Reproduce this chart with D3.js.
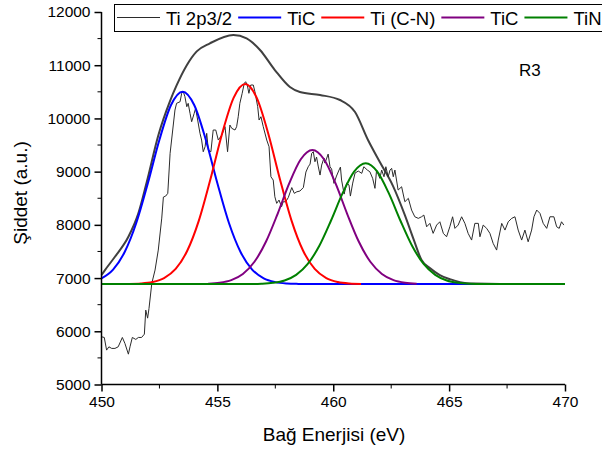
<!DOCTYPE html>
<html>
<head>
<meta charset="utf-8">
<script src="https://cdn.jsdelivr.net/npm/d3@7"></script>
<style>
  body { margin: 0; background: #fff; }
  text { font-family: "Liberation Sans", Arial, sans-serif; fill: #000; }
</style>
</head>
<body>
<svg id="chart" width="602" height="452"></svg>
<script>
// measured spectrum, [eV, counts]
var rawData = [
  [450.01,5896],[450.12,5884],[450.22,5646],[450.32,5708],[450.44,5678],[450.58,5678],[450.72,5708],[450.90,5884],
  [451.01,5772],[451.16,5570],[451.23,5708],[451.33,5884],[451.48,5847],[451.59,5884],[451.73,5884],[451.85,5946],
  [451.91,6398],[451.99,6247],[452.05,6430],[452.17,6900],[452.31,7150],[452.45,7526],[452.60,8127],[452.67,8522],
  [452.77,8541],[452.86,8592],[452.96,9344],[453.17,10158],[453.24,10284],[453.39,10314],[453.46,10472],[453.53,10502],
  [453.60,10408],[453.68,10220],[453.74,10284],[453.82,10096],[453.89,9938],[454.00,10096],[454.06,10190],[454.15,9970],
  [454.25,9720],[454.32,9594],[454.39,9374],[454.47,9468],[454.54,9720],[454.61,9406],[454.72,9374],[454.82,9782],
  [454.93,9782],[455.04,9594],[455.19,9688],[455.33,9844],[455.44,9374],[455.54,9876],[455.62,9814],[455.76,9782],
  [455.83,9844],[455.90,10032],[455.97,10284],[456.07,10472],[456.16,10660],[456.22,10690],[456.29,10628],[456.36,10472],
  [456.44,10628],[456.55,10628],[456.62,10502],[456.74,10220],[456.80,9970],[456.88,10032],[456.98,9844],[457.13,9594],
  [457.23,9468],[457.31,8904],[457.41,8842],[457.48,8528],[457.56,8404],[457.66,8466],[457.77,8340],[457.84,8434],
  [457.95,8434],[458.06,8513],[458.21,8701],[458.32,8592],[458.43,8622],[458.56,8635],[458.71,8701],[458.82,8992],
  [458.92,9092],[459.00,9142],[459.07,9344],[459.14,9374],[459.21,9186],[459.28,9274],[459.35,9105],[459.43,8936],
  [459.50,9124],[459.60,9255],[459.64,9161],[459.72,9255],[459.78,9330],[459.86,9092],[459.93,9048],[460.03,8780],
  [460.14,8917],[460.25,9030],[460.31,9086],[460.36,8842],[460.47,8578],[460.58,8785],[460.68,8748],[460.74,8541],
  [460.84,8785],[460.94,8973],[461.08,9011],[461.23,8968],[461.32,9092],[461.47,9030],[461.58,8998],[461.70,8874],
  [461.80,8686],[461.87,9030],[462.01,8874],[462.09,9030],[462.19,8904],[462.27,9092],[462.37,8904],[462.45,9030],
  [462.52,9062],[462.59,8904],[462.66,9030],[462.80,8654],[462.95,8716],[463.09,8434],[463.24,8498],[463.38,8278],
  [463.52,8152],[463.67,8122],[463.81,8152],[463.91,8184],[464.03,7964],[464.17,8028],[464.31,7840],[464.46,7996],
  [464.60,8058],[464.75,7840],[464.89,7776],[465.03,7964],[465.15,8152],[465.25,7934],[465.39,7996],[465.54,8152],
  [465.68,8028],[465.82,7840],[465.97,7714],[466.11,8028],[466.26,8028],[466.33,7776],[466.47,7996],[466.62,7934],
  [466.76,7840],[466.90,7652],[467.05,7526],[467.12,7714],[467.27,8028],[467.41,7902],[467.55,8058],[467.70,8122],
  [467.84,8152],[467.98,7902],[468.13,7714],[468.27,7902],[468.41,7682],[468.56,7902],[468.66,8152],[468.78,8278],
  [468.92,8216],[469.06,8028],[469.21,7934],[469.35,8152],[469.52,8152],[469.64,7964],[469.75,7934],[469.85,8058],
  [469.95,7996]
];

// fit envelope
var envelope = [
  [450.00,7056],[450.15,7150],[450.58,7400],[451.16,7776],[451.59,8216],[451.95,8800],[452.45,9680],[452.96,10330],
  [453.24,10620],[453.68,11000],[454.11,11260],[454.68,11412],[455.69,11568],[456.26,11506],[456.84,11286],[457.48,10910],
  [458.13,10590],[458.56,10496],[459.43,10440],[460.29,10346],[460.94,10120],[461.50,9594],[462.01,9180],[462.58,8729],
  [463.09,8184],[463.48,7714],[463.81,7338],[464.17,7187],[464.60,7056],[465.03,6980],[465.47,6924],[466.11,6896],
  [467.19,6887],[470.00,6887]
];

// fitted components
var tic1 = [
  [450,6994],[450.5,7160],[451,7489],[451.5,8034],[452,8782],[452.5,9600],[453,10252],[453.5,10502],[454,10252],
  [454.5,9600],[455,8782],[455.5,8034],[456,7489],[456.5,7160],[457,6994],[457.5,6924],[458,6898],[458.5,6890],
  [459,6887],[470,6887]
];
var tiCN = [
  [451.2,6890],[451.7,6898],[452.2,6925],[452.7,6999],[453.2,7171],[453.7,7513],[454.2,8080],[454.7,8858],[455.2,9709],
  [455.7,10387],[456.2,10647],[456.7,10387],[457.2,9709],[457.7,8858],[458.2,8080],[458.7,7513],[459.2,7171],
  [459.7,6999],[460.2,6925],[460.7,6898],[461.2,6890]
];
var tic2 = [
  [454.6,6895],[455.1,6912],[455.6,6962],[456.1,7078],[456.6,7306],[457.1,7687],[457.6,8208],[458.1,8778],[458.6,9233],
  [459.1,9407],[459.6,9233],[460.1,8778],[460.6,8208],[461.1,7687],[461.6,7306],[462.1,7078],[462.6,6962],
  [463.1,6912],[463.6,6895]
];
var tin = [
  [450,6887],[456.4,6889],[456.9,6894],[457.4,6910],[457.9,6954],[458.4,7059],[458.9,7265],[459.4,7607],[459.9,8077],
  [460.4,8591],[460.9,9000],[461.4,9157],[461.9,9000],[462.4,8591],[462.9,8077],[463.4,7607],[463.9,7265],[464.4,7059],
  [464.9,6954],[465.4,6910],[465.9,6894],[466.4,6889],[470,6887]
];

var legendNames = ["Ti 2p3/2", "TiC", "Ti (C-N)", "TiC", "TiN"];
var legendColors = ["#2b2b2b", "#0000ff", "#ff0000", "#800080", "#008000"];
var xTicks = [450, 455, 460, 465, 470];
var yTicks = [5000, 6000, 7000, 8000, 9000, 10000, 11000, 12000];

var svg = d3.select("#chart");

var x = d3.scaleLinear().domain([450, 470]).range([101.5, 565]);
var y = d3.scaleLinear().domain([5000, 12000]).range([384.5, 12]);

var line = d3.line().x(function(d) { return x(d[0]); }).y(function(d) { return y(d[1]); });
var smooth = d3.line().x(function(d) { return x(d[0]); }).y(function(d) { return y(d[1]); }).curve(d3.curveMonotoneX);

// envelope
svg.append("path").attr("d", smooth(envelope))
  .attr("fill", "none").attr("stroke", "#404040").attr("stroke-width", 2);

// data
svg.append("path").attr("d", line(rawData))
  .attr("fill", "none").attr("stroke", "#2b2b2b").attr("stroke-width", 1);

// components
var comps = [tic1, tiCN, tic2, tin];
comps.forEach(function(c, i) {
  svg.append("path").attr("d", smooth(c))
    .attr("fill", "none").attr("stroke", legendColors[i + 1]).attr("stroke-width", 2);
});

// axes
var xAxis = d3.axisBottom(x).tickValues(xTicks).tickSize(7).tickPadding(4).tickFormat(d3.format("d"));
var gx = svg.append("g").attr("transform", "translate(0," + y(5000) + ")").call(xAxis);
gx.select(".domain").attr("d", "M" + x(450) + ",0H" + x(470));
// minor x ticks
gx.selectAll(".minor").data([452.5, 457.5, 462.5, 467.5]).enter().append("line")
  .attr("x1", function(d) { return x(d); }).attr("x2", function(d) { return x(d); })
  .attr("y1", 0).attr("y2", 4).attr("stroke", "#000");

var yAxis = d3.axisLeft(y).tickValues(yTicks).tickSize(7).tickPadding(4).tickFormat(d3.format("d"));
var gy = svg.append("g").attr("transform", "translate(" + x(450) + ",0)").call(yAxis);
gy.select(".domain").attr("d", "M0," + y(5000) + "V" + y(12000));
gy.selectAll(".minor").data(d3.range(5500, 12000, 1000)).enter().append("line")
  .attr("y1", function(d) { return y(d); }).attr("y2", function(d) { return y(d); })
  .attr("x1", 0).attr("x2", -4).attr("stroke", "#000");

svg.selectAll(".domain").attr("stroke", "#000").attr("stroke-width", 1.5);
svg.selectAll(".tick line").attr("stroke-width", 1.5);
svg.selectAll(".tick text").style("font-size", "15.5px").style("font-family", "'Liberation Sans', Arial, sans-serif");

// axis titles
svg.append("text").attr("x", 334).attr("y", 441).attr("text-anchor", "middle")
  .style("font-size", "19px").text("Bağ Enerjisi (eV)");
svg.append("text").attr("transform", "translate(27,193) rotate(-90)").attr("text-anchor", "middle")
  .style("font-size", "19px").text("Şiddet (a.u.)");

// legend
var lg = svg.append("g");
lg.append("rect").attr("x", 114.5).attr("y", 4.5).attr("width", 520).attr("height", 27)
  .attr("fill", "#fff").attr("stroke", "#000").attr("stroke-width", 1);
var lx = 117;
legendNames.forEach(function(name, i) {
  lg.append("line").attr("x1", lx).attr("x2", lx + 43).attr("y1", 17.5).attr("y2", 17.5)
    .attr("stroke", legendColors[i]).attr("stroke-width", i === 0 ? 1 : 2);
  var t = lg.append("text").attr("x", lx + 49).attr("y", 24.5).style("font-size", "18.5px").text(name);
  lx = lx + 49 + t.node().getComputedTextLength() + 6;
});

// R3 label
svg.append("text").attr("x", 519).attr("y", 76).style("font-size", "17px").text("R3");
</script>
</body>
</html>
